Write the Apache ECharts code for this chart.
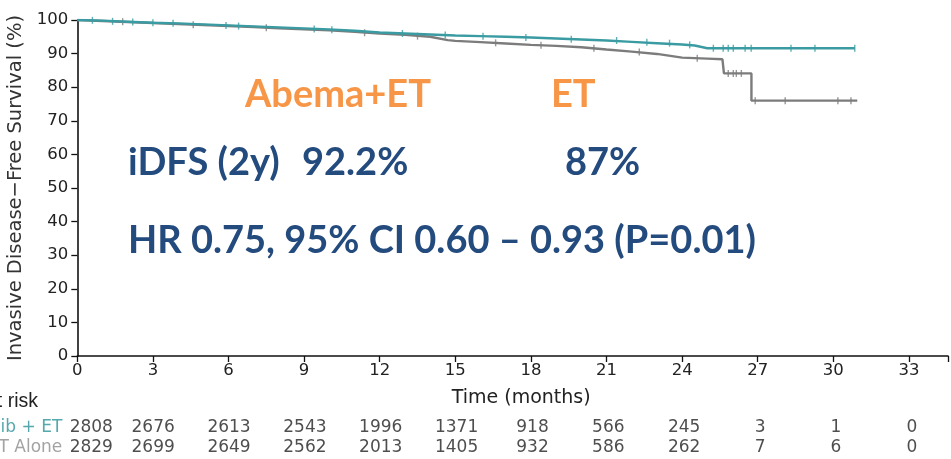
<!DOCTYPE html>
<html>
<head>
<meta charset="utf-8">
<script src="https://cdn.jsdelivr.net/npm/echarts@6/dist/echarts.min.js"></script>
<style>
  html, body { margin: 0; padding: 0; background: #fff; overflow: hidden; width: 951px; height: 459px; }
  /* the figure is wider than the window; its left margin (row titles) runs off-screen */
  #chart { position: absolute; left: -120px; top: 0; width: 1071px; height: 459px; }
</style>
</head>
<body>
<div id="chart"></div>
<script>
// Kaplan-Meier estimates (months, % event-free)
const abemaTime = [0, 1, 2, 3, 4, 5, 6, 7, 8, 9, 10, 11, 12, 13, 14, 15, 16, 17, 18, 19, 20, 21, 22, 23, 24, 24.5, 25.0, 30.85];
const abemaSurv = [100, 99.8, 99.5, 99.2, 99.0, 98.7, 98.4, 98.1, 97.8, 97.5, 97.2, 96.8, 96.3, 96.0, 95.7, 95.4, 95.2, 95.0, 94.8, 94.5, 94.2, 93.9, 93.5, 93.1, 92.7, 92.4, 91.6, 91.6];

const etTime = [0, 1, 2, 3, 4, 5, 6, 7, 8, 9, 10, 11, 12, 13, 14, 14.7, 15, 16, 17, 18, 19, 20, 21, 22, 23, 24, 25, 25.6, 25.66, 26.75, 26.75, 30.95];
const etSurv = [100, 99.7, 99.4, 99.1, 98.8, 98.5, 98.2, 97.9, 97.5, 97.2, 96.9, 96.5, 96.0, 95.6, 95.0, 94.0, 93.8, 93.4, 93.0, 92.6, 92.3, 91.9, 91.2, 90.6, 89.9, 88.8, 88.5, 88.3, 84.1, 84.1, 76.0, 76.0];

// Censoring marks
const abemaCensorTime = [0.6, 1.4, 2.2, 3.0, 3.8, 5.9, 6.4, 9.4, 10.1, 12.9, 14.6, 16.1, 17.8, 19.6, 21.4, 22.6, 23.5, 24.3, 25.24, 25.63, 25.83, 26.03, 26.5, 26.74, 28.32, 29.27, 30.85];
const abemaCensorSurv = [99.9, 99.6, 99.4, 99.2, 99.0, 98.4, 98.2, 97.3, 97.1, 96.0, 95.5, 95.2, 94.8, 94.3, 93.9, 93.4, 93.1, 92.6, 91.6, 91.6, 91.6, 91.6, 91.6, 91.6, 91.6, 91.6, 91.6];
const etCensorTime = [1.8, 4.6, 7.5, 11.4, 13.5, 16.6, 18.4, 20.5, 22.3, 24.6, 25.83, 26.03, 26.15, 26.35, 26.9, 28.09, 30.18, 30.7];
const etCensorSurv = [99.5, 98.6, 97.7, 96.2, 95.2, 93.2, 92.5, 91.6, 90.5, 88.6, 84.1, 84.1, 84.1, 84.1, 76.0, 76.0, 76.0, 76.0];

// Numbers at risk
const riskMonths = [0, 3, 6, 9, 12, 15, 18, 21, 24, 27, 30, 33];
const riskAbema = [2808, 2676, 2613, 2543, 1996, 1371, 918, 566, 245, 3, 1, 0];
const riskEt = [2829, 2699, 2649, 2562, 2013, 1405, 932, 586, 262, 7, 6, 0];
const riskGroups = ['Abemaciclib + ET', 'ET Alone'];

const TEAL = '#3a9ca2';
const GREY = '#7c7c7c';
const ORANGE = '#f79646';
const NAVY = '#244b7e';
const AXIS_FONT = 'DejaVu Sans';
const BIG_FONT = 'Lato';
const OFF = 120;          // width of the off-screen margin on the left
const PLOT_LEFT = 77.3 + OFF;

const pairs = (xs, ys) => xs.map((x, i) => [x, ys[i]]);

const riskData = [];
riskMonths.forEach((m, i) => {
  const lab = i === 0 ? { offset: [14, 0] } : undefined;
  riskData.push({ value: [m, 0, riskAbema[i]], label: lab });
  riskData.push({ value: [m, 1, riskEt[i]], label: lab });
});

const chart = echarts.init(document.getElementById('chart'), null, { renderer: 'canvas' });

const X_MAX = 34.55;

const bigText = (x, y, text, fill) => ({
  type: 'text', x: x + OFF, y: y,
  style: { text: text, fontFamily: BIG_FONT, fontWeight: 'bold', fontSize: 38, fill: fill, align: 'left', verticalAlign: 'middle' }
});

chart.setOption({
  animation: false,
  backgroundColor: '#ffffff',
  grid: [
    { left: PLOT_LEFT, right: 0, top: 20, bottom: 103, containLabel: false },
    { left: PLOT_LEFT, right: 0, top: 417.5, height: 40, containLabel: false }
  ],
  xAxis: [
    {
      gridIndex: 0, type: 'value', min: 0, max: X_MAX, interval: 3,
      name: 'Time (months)', nameLocation: 'middle', nameGap: 33,
      nameTextStyle: { fontFamily: AXIS_FONT, fontSize: 19, color: '#222', verticalAlign: 'top', padding: [0, 0, 0, 17] },
      axisLine: { lineStyle: { color: '#111', width: 1.6 } },
      axisTick: { length: 6, lineStyle: { color: '#111', width: 1.3 } },
      axisLabel: { fontFamily: AXIS_FONT, fontSize: 16.5, color: '#222', margin: 6,
        formatter: v => (v > 33.5 ? '' : String(v)) },
      splitLine: { show: false }
    },
    {
      gridIndex: 1, type: 'value', min: 0, max: X_MAX, show: false
    }
  ],
  yAxis: [
    {
      gridIndex: 0, type: 'value', min: 0, max: 100, interval: 10,
      name: 'Invasive Disease\u2212Free Survival (%)', nameLocation: 'middle', nameGap: 48,
      nameTextStyle: { fontFamily: AXIS_FONT, fontSize: 19.5, color: '#333' },
      axisLine: { lineStyle: { color: '#111', width: 1.6 } },
      axisTick: { length: 6, lineStyle: { color: '#111', width: 1.3 } },
      axisLabel: { fontFamily: AXIS_FONT, fontSize: 16.5, color: '#222', margin: 9 },
      splitLine: { show: false }
    },
    {
      gridIndex: 1, type: 'category', data: riskGroups, inverse: true,
      axisLine: { show: false }, axisTick: { show: false }, splitLine: { show: false },
      axisLabel: {
        interval: 0, margin: 15, fontFamily: AXIS_FONT, fontSize: 17,
        formatter: v => (v === riskGroups[0] ? '{a|' + v + '}' : '{b|' + v + '}'),
        rich: {
          a: { color: '#55a9ad', fontFamily: AXIS_FONT, fontSize: 17 },
          b: { color: '#a3a3a3', fontFamily: AXIS_FONT, fontSize: 17 }
        }
      }
    }
  ],
  series: [
    {
      name: 'ET Alone', type: 'line', xAxisIndex: 0, yAxisIndex: 0,
      data: pairs(etTime, etSurv), showSymbol: false, symbol: 'none',
      lineStyle: { color: GREY, width: 2.4 }, z: 2
    },
    {
      name: 'Abemaciclib + ET', type: 'line', xAxisIndex: 0, yAxisIndex: 0,
      data: pairs(abemaTime, abemaSurv), showSymbol: false, symbol: 'none',
      lineStyle: { color: TEAL, width: 2.4 }, z: 3
    },
    {
      type: 'scatter', xAxisIndex: 0, yAxisIndex: 0, data: pairs(etCensorTime, etCensorSurv),
      symbol: 'rect', symbolSize: [1.4, 7], itemStyle: { color: GREY }, z: 2
    },
    {
      type: 'scatter', xAxisIndex: 0, yAxisIndex: 0, data: pairs(abemaCensorTime, abemaCensorSurv),
      symbol: 'rect', symbolSize: [1.4, 7], itemStyle: { color: TEAL }, z: 3
    },
    {
      type: 'scatter', xAxisIndex: 1, yAxisIndex: 1, data: riskData,
      symbolSize: 0, silent: true,
      encode: { x: 0, y: 1 },
      label: {
        show: true, position: 'inside', fontFamily: AXIS_FONT, fontSize: 17, color: '#222',
        formatter: p => String(p.value[2])
      }
    }
  ],
  graphic: [
    { type: 'text', x: 38 + OFF, y: 402,
      style: { text: 'Number at risk', fontFamily: 'Liberation Sans', fontSize: 19.5, fill: '#222', align: 'right', verticalAlign: 'middle' } },
    bigText(245, 95, 'Abema+ET', ORANGE),
    bigText(551, 95, 'ET', ORANGE),
    bigText(128, 163, 'iDFS (2y)', NAVY),
    bigText(302, 163, '92.2%', NAVY),
    bigText(565, 163, '87%', NAVY),
    bigText(128, 241, 'HR 0.75, 95% CI 0.60 \u2013 0.93 (P=0.01)', NAVY)
  ]
});
</script>
</body>
</html>
